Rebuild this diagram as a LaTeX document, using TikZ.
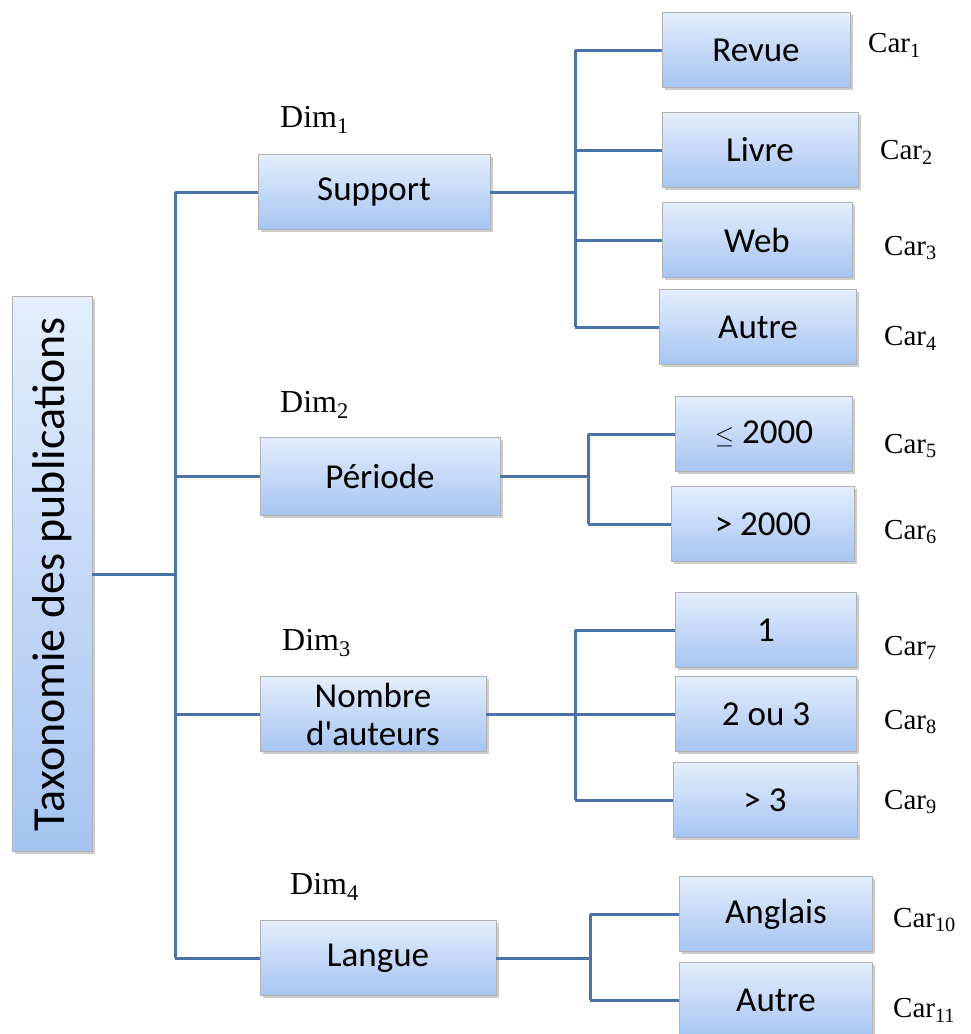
\documentclass[tikz,border=0pt]{standalone}
\usepackage{fontspec}
\setmainfont{Liberation Serif}
\newfontfamily\boxfont{Carlito}
\usetikzlibrary{shadows}
\definecolor{linkblue}{HTML}{4A74A8}
\definecolor{boxtop}{HTML}{E4EEFD}
\definecolor{boxbottom}{HTML}{A6C4F2}
\tikzset{
  taxbox/.style={draw=gray!60, top color=boxtop, bottom color=boxbottom,
    inner sep=0pt, minimum height=75pt, align=center,
    font=\boxfont\fontsize{35}{38}\selectfont,
    drop shadow={shadow xshift=2.5pt,shadow yshift=-2.5pt,opacity=.4}},
  link/.style={draw=linkblue, line width=3pt},
  dimlabel/.style={font=\fontsize{32}{34}\selectfont, anchor=west, inner sep=0pt},
  carlabel/.style={font=\fontsize{29}{31}\selectfont, anchor=west, inner sep=0pt}
}
\begin{document}
\begin{tikzpicture}[x=1pt,y=-1pt]
\useasboundingbox (0,0) rectangle (971,1034);
% root
\node[taxbox, minimum width=80pt, minimum height=555pt] (root) at (52,574)
  {\rotatebox{90}{\fontsize{46}{48}\selectfont Taxonomie des publications}};
% dimensions
\node[taxbox, minimum width=232pt] (support) at (374,192) {Support};
\node[taxbox, minimum width=240pt, minimum height=78pt] (periode) at (380,476) {Période};
\node[taxbox, minimum width=226pt] (nombre) at (373,714) {Nombre\\d'auteurs};
\node[taxbox, minimum width=236pt] (langue) at (378,958) {Langue};
% characteristics
\node[taxbox, minimum width=188pt] (revue) at (756,50) {Revue};
\node[taxbox, minimum width=196pt] (livre) at (760,150) {Livre};
\node[taxbox, minimum width=190pt] (web) at (757,240) {Web};
\node[taxbox, minimum width=197pt] (autreA) at (758,327) {Autre};
\node[taxbox, minimum width=177pt] (avant) at (764,434) {$\leq$ 2000};
\node[taxbox, minimum width=183pt] (apres) at (763,524) {> 2000};
\node[taxbox, minimum width=181pt] (un) at (766,630) {1};
\node[taxbox, minimum width=181pt] (deux) at (766,714) {2 ou 3};
\node[taxbox, minimum width=184pt] (plus) at (765,800) {> 3};
\node[taxbox, minimum width=193pt] (anglais) at (776,914) {Anglais};
\node[taxbox, minimum width=193pt] (autreB) at (776,1000) {Autre};
% labels
\foreach \n/\x/\y in {1/280/120, 2/280/405, 3/282/643, 4/290/887}
  \node[dimlabel] (dim\n) at (\x,\y) {Dim\textsubscript{\n}};
\foreach \n/\x/\y in {1/868/45, 2/880/152, 3/884/248, 4/884/338, 5/884/446,
                      6/884/532, 7/884/648, 8/884/722, 9/884/802,
                      10/893/920, 11/893/1010}
  \node[carlabel] (car\n) at (\x,\y) {Car\textsubscript{\n}};
% trunk
\coordinate (trunk) at (175,574);
\draw[link] (root.east) -- (trunk);
\draw[link] (trunk |- support) -- (trunk |- langue);
\foreach \d in {support,periode,nombre,langue}
  \draw[link] (trunk |- \d) -- (\d.west);
% branches
\coordinate (jsup) at (575,192);
\coordinate (jper) at (588,476);
\coordinate (jnom) at (575,714);
\coordinate (jlan) at (590,958);
\foreach \d/\j/\first/\last/\leaves in {
    support/jsup/revue/autreA/{revue,livre,web,autreA},
    periode/jper/avant/apres/{avant,apres},
    nombre/jnom/un/plus/{un,deux,plus},
    langue/jlan/anglais/autreB/{anglais,autreB}}{
  \draw[link] (\d.east) -- (\j);
  \draw[link] (\j |- \first) -- (\j |- \last);
  \foreach \l in \leaves
    \draw[link] (\j |- \l) -- (\l.west);
}
\end{tikzpicture}
\end{document}
